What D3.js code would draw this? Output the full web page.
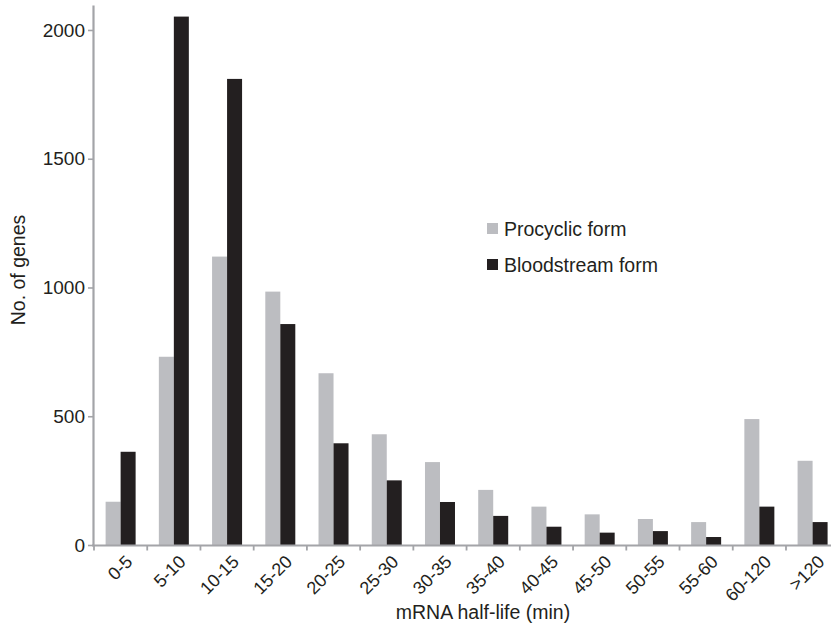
<!DOCTYPE html>
<html>
<head>
<meta charset="utf-8">
<script src="https://cdn.jsdelivr.net/npm/d3@7"></script>
<style>
  html, body { margin: 0; padding: 0; background: #fff; }
  svg { display: block; font-family: "Liberation Sans", Arial, Helvetica, sans-serif; }
</style>
</head>
<body>
<svg id="chart" width="831" height="627"></svg>
<script>
// Half-life bins (minutes)
const categories = ["0-5", "5-10", "10-15", "15-20", "20-25", "25-30", "30-35",
  "35-40", "40-45", "45-50", "50-55", "55-60", "60-120", ">120"];

// Number of genes per bin for each life-cycle stage
const procyclic = [168, 731, 1120, 984, 667, 430, 322, 214, 149, 119, 101, 89, 489, 327];
const bloodstream = [362, 2052, 1810, 858, 395, 251, 167, 113, 71, 48, 54, 31, 149, 89];

const seriesNames = ["Procyclic form", "Bloodstream form"];
const seriesValues = [procyclic, bloodstream];
const yTicks = [0, 500, 1000, 1500, 2000];

const colors = { "Procyclic form": "#bcbdc1", "Bloodstream form": "#231f20" };
const axisColor = "#a3a4a8";
const textColor = "#231f20";

const svg = d3.select("#chart");

const left = 94, right = 839.2, baseY = 545, topY = 5;

const groupGap = 0.4364;
const x0 = d3.scaleBand()
  .domain(categories)
  .range([left, right])
  .paddingInner(groupGap)
  .paddingOuter(groupGap / 2);

const x1 = d3.scaleBand()
  .domain(seriesNames)
  .range([0, x0.bandwidth()]);

const y = d3.scaleLinear()
  .domain([0, 2097])
  .range([baseY, topY]);

// Bars
const rows = categories.map((c, i) => ({
  cat: c,
  vals: seriesNames.map((s, j) => ({ name: s, value: seriesValues[j][i] }))
}));

svg.append("g")
  .selectAll("g")
  .data(rows)
  .join("g")
  .attr("transform", d => `translate(${x0(d.cat)},0)`)
  .selectAll("rect")
  .data(d => d.vals)
  .join("rect")
  .attr("x", d => x1(d.name))
  .attr("width", x1.bandwidth())
  .attr("y", d => y(d.value))
  .attr("height", d => y(0) - y(d.value))
  .attr("fill", d => colors[d.name]);

// Y axis
const yAxis = svg.append("g")
  .attr("transform", `translate(${left - 1},0)`)
  .call(d3.axisLeft(y)
    .tickValues(yTicks)
    .tickFormat(d3.format("d"))
    .tickSize(5).tickSizeOuter(0).tickPadding(3));
yAxis.select(".domain").attr("stroke", axisColor).attr("stroke-width", 2.2);
yAxis.selectAll(".tick line").attr("stroke", axisColor).attr("stroke-width", 1.6);
yAxis.selectAll(".tick text")
  .attr("fill", textColor)
  .style("font-size", "19px")
  .style("font-family", "Liberation Sans, Arial, sans-serif");

// X axis: baseline with ticks at bin boundaries
const xAxis = svg.append("g");
xAxis.append("line")
  .attr("x1", left - 2).attr("x2", 831)
  .attr("y1", baseY + 0.5).attr("y2", baseY + 0.5)
  .attr("stroke", axisColor).attr("stroke-width", 2.2);

const halfGap = x0.step() * groupGap / 2;
const boundaries = categories.map(c => x0(c) - halfGap);
boundaries.push(x0(categories[categories.length - 1]) + x0.bandwidth() + halfGap);
xAxis.selectAll("line.tick")
  .data(boundaries)
  .join("line")
  .attr("class", "tick")
  .attr("x1", d => d).attr("x2", d => d)
  .attr("y1", baseY).attr("y2", baseY + 5.5)
  .attr("stroke", axisColor).attr("stroke-width", 1.8);

xAxis.selectAll("text")
  .data(categories)
  .join("text")
  .attr("transform", c => `translate(${x0(c) + x0.bandwidth() / 2 + 4},${baseY + 9}) rotate(-45)`)
  .attr("text-anchor", "end")
  .attr("dy", "0.7em")
  .attr("fill", textColor)
  .style("font-size", "18px")
  .text(c => c);

// Axis titles
svg.append("text")
  .attr("x", 483).attr("y", 619)
  .attr("text-anchor", "middle")
  .attr("fill", textColor)
  .style("font-size", "19.5px")
  .text("mRNA half-life (min)");

svg.append("text")
  .attr("transform", "translate(25,270) rotate(-90)")
  .attr("text-anchor", "middle")
  .attr("fill", textColor)
  .style("font-size", "19.5px")
  .text("No. of genes");

// Legend
const legend = svg.append("g").attr("transform", "translate(487,223)");
const items = legend.selectAll("g")
  .data(seriesNames)
  .join("g")
  .attr("transform", (d, i) => `translate(0,${i * 36})`);
items.append("rect")
  .attr("width", 11).attr("height", 11)
  .attr("fill", d => colors[d]);
items.append("text")
  .attr("x", 17).attr("y", 12.5)
  .attr("fill", textColor)
  .style("font-size", "19.5px")
  .text(d => d);
</script>
</body>
</html>
